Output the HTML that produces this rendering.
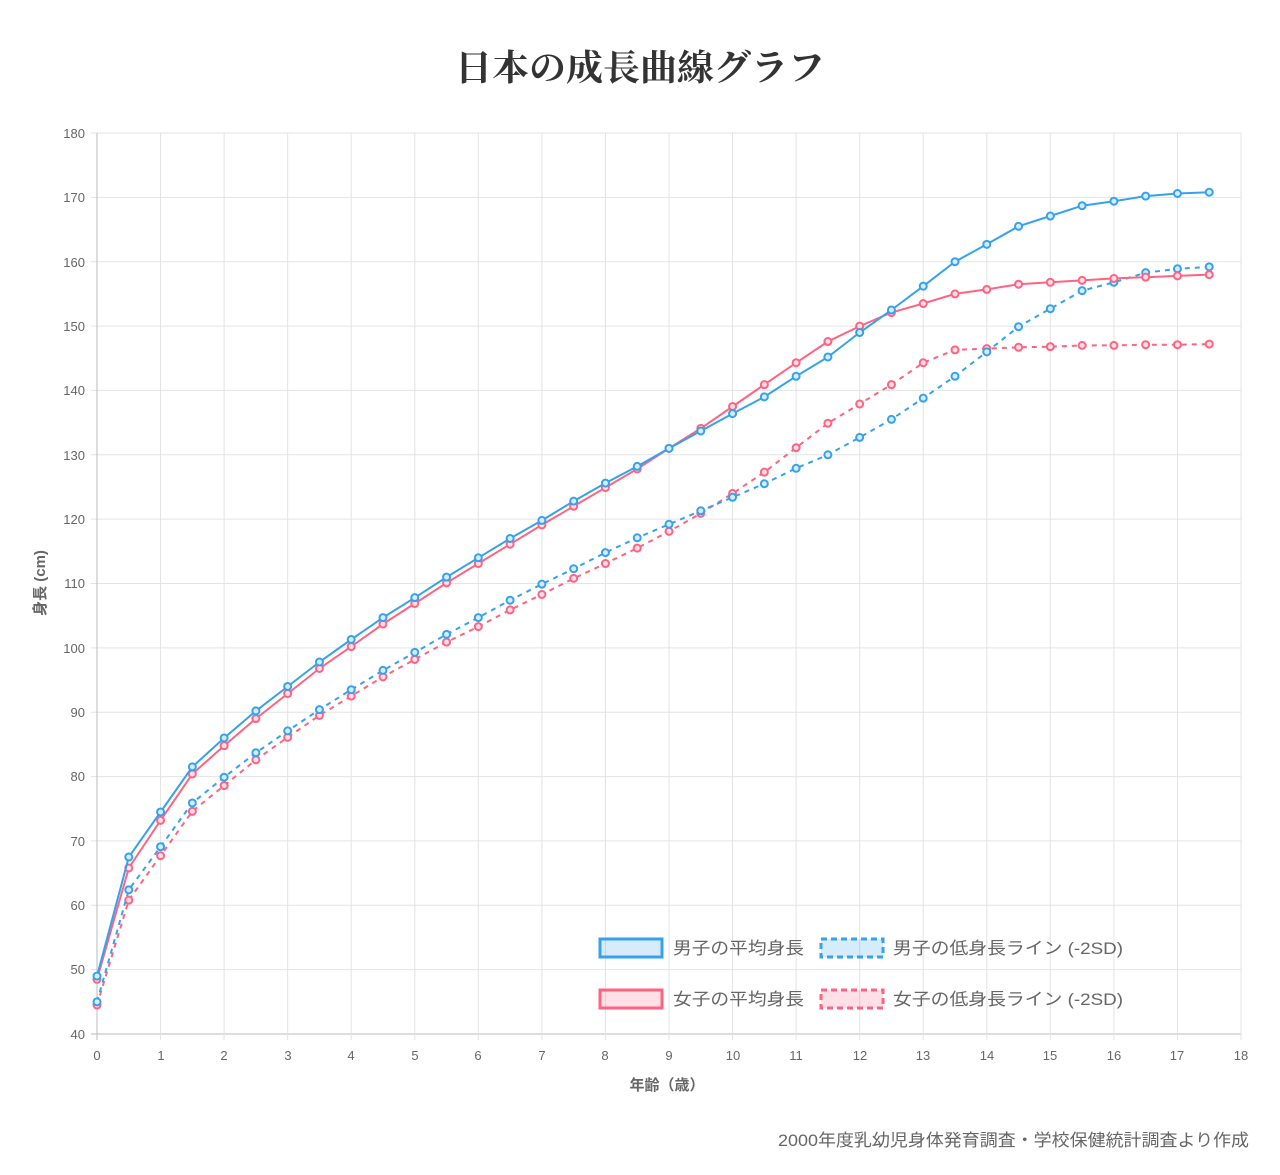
<!DOCTYPE html>
<html><head><meta charset="utf-8">
<style>
body{margin:0;background:#fff;width:1280px;height:1175px;overflow:hidden}
svg{display:block}
text{font-family:"Liberation Sans","Noto Sans CJK JP",sans-serif}
</style></head><body>
<svg id="s" width="1280" height="1175" xmlns="http://www.w3.org/2000/svg">
<text x="455" y="80" textLength="370" lengthAdjust="spacingAndGlyphs" font-size="36" font-weight="bold" fill="#333" style="font-family:'Liberation Serif','Noto Serif CJK SC',serif">日本の成長曲線グラフ</text>
<g id="grid" stroke="#e3e3e3" stroke-width="1"></g>
<g font-size="13" fill="#666" text-anchor="end">
<text x="85" y="138">180</text><text x="85" y="202">170</text><text x="85" y="267">160</text><text x="85" y="331">150</text><text x="85" y="395">140</text><text x="85" y="460">130</text><text x="85" y="524">120</text><text x="85" y="588">110</text><text x="85" y="653">100</text><text x="85" y="717">90</text><text x="85" y="781">80</text><text x="85" y="846">70</text><text x="85" y="910">60</text><text x="85" y="974">50</text><text x="85" y="1039">40</text>
</g>
<g font-size="13" fill="#666" text-anchor="middle">
<text x="97" y="1060">0</text><text x="161" y="1060">1</text><text x="224" y="1060">2</text><text x="288" y="1060">3</text><text x="351" y="1060">4</text><text x="415" y="1060">5</text><text x="478" y="1060">6</text><text x="542" y="1060">7</text><text x="605" y="1060">8</text><text x="669" y="1060">9</text><text x="733" y="1060">10</text><text x="796" y="1060">11</text><text x="860" y="1060">12</text><text x="923" y="1060">13</text><text x="987" y="1060">14</text><text x="1050" y="1060">15</text><text x="1114" y="1060">16</text><text x="1177" y="1060">17</text><text x="1241" y="1060">18</text>
</g>
<text x="667" y="1090" text-anchor="middle" font-size="15" font-weight="bold" fill="#666">年齢（歳）</text>
<text transform="translate(45,583) rotate(-90)" text-anchor="middle" font-size="15" font-weight="bold" fill="#666">身長 (cm)</text>
<g id="series"></g>
<g font-size="17" fill="#666">
<rect x="600" y="939" width="62" height="18" fill="rgba(54,162,235,0.2)" stroke="#36a2eb" stroke-width="3"/>
<text x="673" y="954" textLength="131" lengthAdjust="spacingAndGlyphs">男子の平均身長</text>
<rect x="821" y="939" width="62" height="18" fill="rgba(54,162,235,0.2)" stroke="#36a2eb" stroke-width="3" stroke-dasharray="6,4"/>
<text x="893" y="954" textLength="230" lengthAdjust="spacingAndGlyphs">男子の低身長ライン (-2SD)</text>
<rect x="600" y="990" width="62" height="18" fill="rgba(255,99,132,0.2)" stroke="#ff6384" stroke-width="3"/>
<text x="673" y="1005" textLength="131" lengthAdjust="spacingAndGlyphs">女子の平均身長</text>
<rect x="821" y="990" width="62" height="18" fill="rgba(255,99,132,0.2)" stroke="#ff6384" stroke-width="3" stroke-dasharray="6,4"/>
<text x="893" y="1005" textLength="230" lengthAdjust="spacingAndGlyphs">女子の低身長ライン (-2SD)</text>
</g>
<text x="778" y="1146" textLength="471" lengthAdjust="spacingAndGlyphs" font-size="17" fill="#666">2000年度乳幼児身体発育調査・学校保健統計調査より作成</text>
</svg>
<script>
var NS="http://www.w3.org/2000/svg";
function X(a){return 97+a*1144/18}
function Y(v){return 133+(180-v)*901/140}
var g=document.getElementById('grid');
function ln(p,x1,y1,x2,y2,c){var l=document.createElementNS(NS,'line');l.setAttribute('x1',x1);l.setAttribute('y1',y1);l.setAttribute('x2',x2);l.setAttribute('y2',y2);if(c)l.setAttribute('stroke',c);p.appendChild(l)}
for(var v=40;v<=180;v+=10)ln(g,91,Y(v),1241,Y(v),v==40?'#bbb':null);
for(var a=0;a<=18;a++)ln(g,X(a),133,X(a),1040,a==0?'#bbb':null);
var bm=[49,67.5,74.5,81.5,86,90.2,94,97.8,101.3,104.7,107.8,111,114,117,119.8,122.8,125.6,128.2,131,133.7,136.4,139,142.2,145.2,149,152.5,156.2,160,162.7,165.5,167.1,168.7,169.4,170.2,170.6,170.8];
var gm=[48.5,65.8,73.2,80.4,84.8,89,92.9,96.8,100.2,103.7,106.9,110.1,113.1,116.1,119.1,122,124.9,127.8,131,134.1,137.5,140.9,144.3,147.6,150,152.1,153.5,155,155.7,156.5,156.8,157.1,157.4,157.6,157.8,158];
var bl=[45,62.4,69.1,75.9,79.9,83.7,87.1,90.4,93.5,96.5,99.3,102.1,104.7,107.4,109.9,112.3,114.8,117.1,119.2,121.3,123.4,125.5,127.9,130,132.7,135.5,138.8,142.2,146,149.9,152.7,155.5,156.8,158.3,158.9,159.2];
var gl=[44.5,60.8,67.7,74.6,78.6,82.6,86.1,89.5,92.5,95.5,98.2,100.9,103.3,105.9,108.3,110.8,113.1,115.5,118.1,120.9,124,127.3,131.1,134.9,137.9,140.9,144.3,146.3,146.5,146.7,146.8,147,147,147.1,147.1,147.2];
var S=document.getElementById('series');
function draw(d,c,dash){var p=document.createElementNS(NS,'path');var s='';d.forEach(function(v,i){s+=(i?'L':'M')+X(i*0.5).toFixed(1)+','+Y(v).toFixed(1)});
p.setAttribute('d',s);p.setAttribute('fill','none');p.setAttribute('stroke',c);p.setAttribute('stroke-width','2');if(dash)p.setAttribute('stroke-dasharray','5,5');S.appendChild(p);
d.forEach(function(v,i){var ci=document.createElementNS(NS,'circle');ci.setAttribute('cx',X(i*0.5));ci.setAttribute('cy',Y(v));ci.setAttribute('r',3.5);ci.setAttribute('fill',c=='#36a2eb'?'#d7ecfb':'#ffe0e6');ci.setAttribute('stroke',c);ci.setAttribute('stroke-width','2');S.appendChild(ci)})}
draw(gl,'#ff6384',1);draw(bl,'#36a2eb',1);draw(gm,'#ff6384');draw(bm,'#36a2eb');
</script>
</body></html>
